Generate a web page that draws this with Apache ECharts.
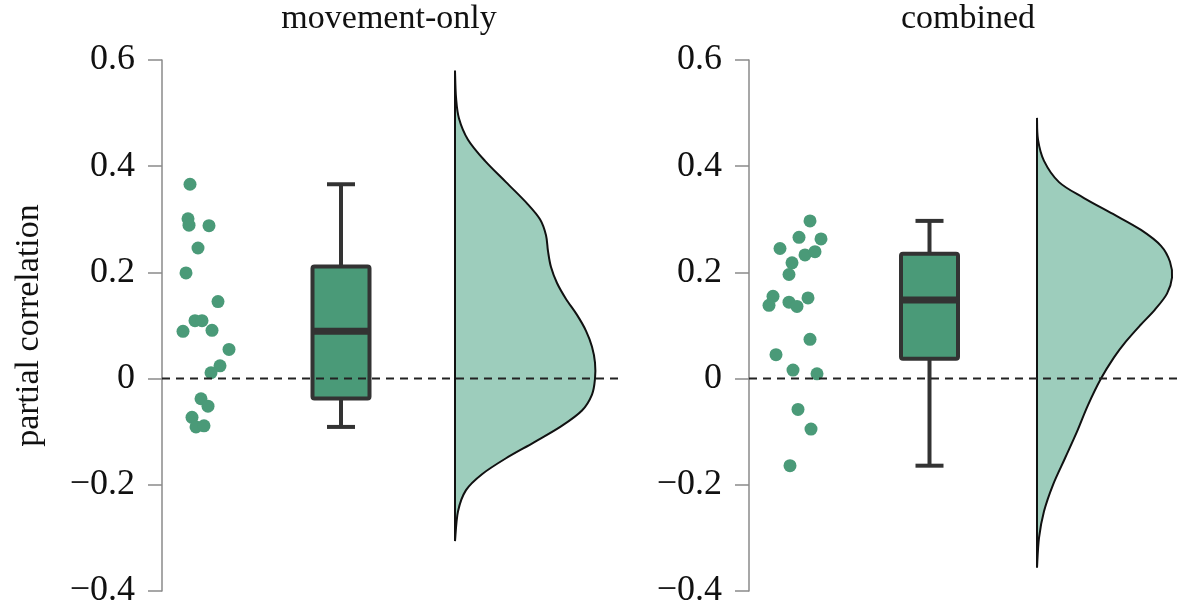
<!DOCTYPE html>
<html><head><meta charset="utf-8">
<script src="https://cdn.jsdelivr.net/npm/echarts@6/dist/echarts.min.js"></script>
<style>html,body{margin:0;padding:0;background:#fff}#c{width:1182px;height:609px}</style>
</head><body><div id="c"></div>
<script>
// ---------- DATA ----------
const panelTitles = ['movement-only', 'combined'];
const yAxisName = 'partial correlation';
const yTicks = [-0.4, -0.2, 0, 0.2, 0.4, 0.6];
const yTickLabels = ['\u22120.4', '\u22120.2', '0', '0.2', '0.4', '0.6'];

// individual points (value) and their horizontal jitter offsets
const movementValues = [0.366, 0.301, 0.289, 0.288, 0.246, 0.199, 0.145, 0.109, 0.109, 0.089, 0.091, 0.055, 0.024, 0.011, -0.038, -0.052, -0.073, -0.091, -0.089];
const movementJitter = [28, 26, 27, 47, 36, 24, 56, 33, 40, 21, 50, 67, 58, 49, 39, 46, 30, 34, 42];
const combinedValues = [0.297, 0.266, 0.263, 0.245, 0.233, 0.239, 0.218, 0.196, 0.155, 0.138, 0.144, 0.136, 0.152, 0.074, 0.045, 0.016, 0.009, -0.058, -0.095, -0.164];
const combinedJitter = [61, 50, 72, 31, 56, 66, 43, 40, 24, 20, 40, 48, 59, 61, 27, 44, 68, 49, 62, 41];

// box stats: [min, Q1, median, Q3, max]
const movementBox = [-0.091, -0.0375, 0.089, 0.211, 0.366];
const combinedBox = [-0.164, 0.0375, 0.148, 0.235, 0.297];

// half-violin density: y values and widths
const movementDensityY = [0.580, 0.530, 0.490, 0.450, 0.410, 0.370, 0.330, 0.300, 0.270, 0.240, 0.210, 0.180, 0.150, 0.120, 0.090, 0.060, 0.030, 0.0, -0.030, -0.060, -0.090, -0.120, -0.150, -0.180, -0.210, -0.250, -0.306];
const movementDensityW = [0, 1, 4, 13, 30, 51, 72, 85, 91, 93, 96, 102, 111, 122, 131, 137, 140, 140, 137, 127, 106, 79, 51, 27, 11, 3, 0];
const combinedDensityY = [0.491, 0.450, 0.410, 0.370, 0.340, 0.310, 0.280, 0.250, 0.220, 0.190, 0.160, 0.130, 0.100, 0.070, 0.040, 0.0, -0.050, -0.100, -0.150, -0.200, -0.250, -0.300, -0.356];
const combinedDensityW = [0, 1, 7, 22, 47, 76, 104, 124, 133, 135, 130, 118, 103, 89, 77, 64, 51, 40, 28, 16, 7, 2, 0];

// ---------- STYLE / LAYOUT ----------
const FONT = "'Liberation Serif','Times New Roman',serif";
const GREEN = '#4a9a78';
const LIGHT = '#9dcdbc';
const DARK = '#333333';
const panels = [
  {left: 162, width: 460, boxX: 179, violinX: 293, titleX: 389,
   values: movementValues, jitter: movementJitter, box: movementBox, dy: movementDensityY, dw: movementDensityW},
  {left: 749, width: 433, boxX: 180.5, violinX: 288, titleX: 968,
   values: combinedValues, jitter: combinedJitter, box: combinedBox, dy: combinedDensityY, dw: combinedDensityW}
];

function boxRender(stats, cx) {
  return function (params, api) {
    const x = api.coord([cx, 0])[0];
    const y = stats.map(v => api.coord([cx, v])[1]);
    const hw = 28.5, cap = 14;
    const ls = {stroke: DARK, lineWidth: 4};
    return {type: 'group', children: [
      {type: 'line', shape: {x1: x, y1: y[4], x2: x, y2: y[3]}, style: ls},
      {type: 'line', shape: {x1: x, y1: y[1], x2: x, y2: y[0]}, style: ls},
      {type: 'line', shape: {x1: x - cap, y1: y[4], x2: x + cap, y2: y[4]}, style: ls},
      {type: 'line', shape: {x1: x - cap, y1: y[0], x2: x + cap, y2: y[0]}, style: ls},
      {type: 'rect', shape: {x: x - hw, y: y[3], width: 2 * hw, height: y[1] - y[3], r: 2}, style: {fill: GREEN, stroke: DARK, lineWidth: 4}},
      {type: 'line', shape: {x1: x - hw, y1: y[2], x2: x + hw, y2: y[2]}, style: {stroke: DARK, lineWidth: 7}}
    ]};
  };
}
// Catmull-Rom path through the density outline, closed along the baseline
function violinRender(ys, ws, base) {
  return function (params, api) {
    const p = ys.map((v, i) => api.coord([base + ws[i], v]));
    const n = p.length;
    const f = n2 => n2.toFixed(2);
    let d = 'M' + f(p[0][0]) + ' ' + f(p[0][1]);
    for (let i = 0; i < n - 1; i++) {
      const p0 = p[Math.max(i - 1, 0)], p1 = p[i], p2 = p[i + 1], p3 = p[Math.min(i + 2, n - 1)];
      const c1x = p1[0] + (p2[0] - p0[0]) / 6, c1y = p1[1] + (p2[1] - p0[1]) / 6;
      const c2x = p2[0] - (p3[0] - p1[0]) / 6, c2y = p2[1] - (p3[1] - p1[1]) / 6;
      d += ' C' + f(c1x) + ' ' + f(c1y) + ' ' + f(c2x) + ' ' + f(c2y) + ' ' + f(p2[0]) + ' ' + f(p2[1]);
    }
    d += ' Z';
    return {type: 'path', shape: {pathData: d},
      style: {fill: LIGHT, stroke: '#111', lineWidth: 2}};
  };
}

const grids = [], xAxes = [], yAxes = [], series = [], titles = [];
panels.forEach((p, i) => {
  grids.push({left: p.left, width: p.width, top: 60, bottom: 16});
  xAxes.push({type: 'value', gridIndex: i, min: 0, max: p.width, show: false});
  yAxes.push({
    type: 'value', gridIndex: i, min: -0.4, max: 0.6, interval: 0.2,
    name: i === 0 ? yAxisName : '', nameLocation: 'middle', nameGap: 116, nameRotate: 90,
    nameTextStyle: {fontFamily: FONT, fontSize: 34, color: '#111'},
    axisLine: {show: true, lineStyle: {color: '#8a8a8a', width: 1.5}},
    axisTick: {show: true, length: 14, lineStyle: {color: '#8a8a8a', width: 1.5}},
    splitLine: {show: false},
    axisLabel: {fontFamily: FONT, fontSize: 36, color: '#111', margin: 27,
      formatter: v => { const k = yTicks.findIndex(t => Math.abs(t - v) < 1e-9); return k >= 0 ? yTickLabels[k] : ''; }}
  });
  titles.push({text: panelTitles[i], left: p.titleX, textAlign: 'center', top: 2, padding: 0,
    textStyle: {fontFamily: FONT, fontSize: 34, fontWeight: 'normal', color: '#111'}});
  series.push({type: 'custom', xAxisIndex: i, yAxisIndex: i, data: [[p.violinX, 0]], z: 2, silent: true,
    renderItem: violinRender(p.dy, p.dw, p.violinX)});
  series.push({type: 'custom', xAxisIndex: i, yAxisIndex: i, data: [[p.boxX, p.box[2]]], z: 3, silent: true,
    renderItem: boxRender(p.box, p.boxX)});
  series.push({type: 'scatter', xAxisIndex: i, yAxisIndex: i, symbolSize: 13, z: 4, silent: true,
    itemStyle: {color: GREEN, opacity: 1},
    data: p.values.map((v, k) => [p.jitter[k], v])});
  series.push({type: 'line', xAxisIndex: i, yAxisIndex: i, z: 5, silent: true, symbol: 'none',
    lineStyle: {color: '#222', width: 2, type: [8, 6]},
    data: [[0, 0], [p.width, 0]]});
});

const chart = echarts.init(document.getElementById('c'), null, {renderer: 'canvas'});
chart.setOption({
  animation: false, backgroundColor: '#fff',
  title: titles, grid: grids, xAxis: xAxes, yAxis: yAxes, series: series
});
</script></body></html>
